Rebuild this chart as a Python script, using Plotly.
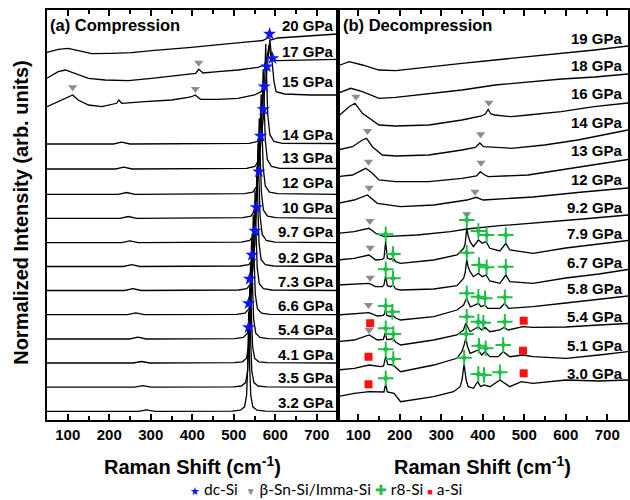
import plotly.graph_objects as go

# ---------------- Panel (a) Compression: Raman shift (cm-1) vs stacked normalized intensity ----------------
A20_X = [50, 77, 101, 126, 158, 206, 254, 302, 350, 398, 446, 494, 542, 570, 584, 590, 606, 654, 702, 750]
A20_Y = [367.5, 370.7, 371.7, 369.3, 366.3, 366.7, 367.3, 369.3, 370.7, 372.7, 374.7, 376.7, 378.3, 379.5, 382.5, 380, 382, 383.3, 384.7, 386]

A17_X = [50, 77, 94, 118, 150, 190, 246, 302, 366, 398, 408, 416, 426, 462, 510, 558, 574, 581, 585, 589, 594, 606, 654, 702, 750]
A17_Y = [341.7, 348.3, 350, 346.7, 341.7, 340, 339.3, 341.7, 345, 346.7, 346.5, 350.7, 347, 348.3, 350, 352.7, 355, 363.3, 375, 365, 360, 359.3, 360, 360, 360.7]

A15_X = [50, 77, 100, 112, 125, 150, 182, 218, 223, 230, 286, 350, 390, 400, 407, 420, 462, 510, 550, 566, 576, 582, 587, 592, 597, 602, 622, 686, 750]
A15_Y = [313.3, 318.3, 322.7, 325, 320, 315, 313.3, 316.7, 320, 316.7, 318.3, 320, 322.7, 323.5, 325, 320.7, 320.7, 321.7, 325, 328.3, 333.3, 360, 380, 360, 338.3, 328.3, 326, 325, 325]

# lower compression spectra: intensities above their stacking offsets
A14_X = [50, 210, 230, 250, 537, 557, 567, 572, 574.5, 577, 579.5, 582, 587, 597, 617, 750]
A14_I = [0, 0, 1.8, 0, 0.6, 2.5, 9.3, 29, 62, 100, 62, 29, 9.3, 2.5, 0.6, 0.5]
A13_X = [50, 215, 235, 255, 531, 551, 561, 566, 568.5, 571, 573.5, 576, 581, 591, 611, 750]
A13_I = [0, 0, 1.8, 0, 0.6, 2.5, 9.3, 29, 62, 100, 62, 29, 9.3, 2.5, 0.6, 0.5]
A12_X = [50, 222, 242, 262, 526, 546, 556, 561, 563.5, 566, 568.5, 571, 576, 586, 606, 750]
A12_I = [0, 0, 1.8, 0, 0.6, 2.2, 8.3, 26.5, 59, 100, 59, 26.5, 8.3, 2.2, 0.6, 0]
A10_X = [50, 226, 246, 266, 521.5, 541.5, 551.5, 556.5, 559, 561.5, 564, 566.5, 571.5, 581.5, 601.5, 750]
A10_I = [0, 0, 1.8, 0, 0.6, 2.2, 8.3, 26.5, 59, 100, 59, 26.5, 8.3, 2.2, 0.6, 0]
A97_X = [50, 230, 250, 270, 518.5, 538.5, 548.5, 553.5, 556, 558.5, 561, 563.5, 568.5, 578.5, 598.5, 750]
A97_I = [0, 0, 1.8, 0, 0.6, 2.2, 8.3, 26.5, 59, 100, 59, 26.5, 8.3, 2.2, 0.6, 0]
A92_X = [50, 234, 254, 274, 516, 536, 546, 551, 553.5, 556, 558.5, 561, 566, 576, 596, 750]
A92_I = [0, 0, 1.8, 0, 0.5, 1.8, 6.8, 22.6, 53.8, 100, 53.8, 22.6, 6.8, 1.8, 0.5, 0]
A73_X = [50, 237, 257, 277, 511.5, 531.5, 541.5, 546.5, 549, 551.5, 554, 556.5, 561.5, 571.5, 591.5, 750]
A73_I = [0, 0, 1.8, 0, 0.5, 1.8, 6.8, 22.6, 53.8, 100, 53.8, 22.6, 6.8, 1.8, 0.5, 0]
A66_X = [50, 244, 264, 284, 507, 527, 537, 542, 544.5, 547, 549.5, 552, 557, 567, 587, 750]
A66_I = [0, 0, 1.8, 0, 0.4, 1.5, 5.9, 20, 50, 100, 50, 20, 5.9, 1.5, 0.4, 0]
A54_X = [50, 249, 269, 289, 503, 523, 533, 538, 540.5, 543, 545.5, 548, 553, 563, 583, 750]
A54_I = [0, 0, 1.8, 0, 0.4, 1.5, 5.9, 20, 50, 100, 50, 20, 5.9, 1.5, 0.4, 0]
A41_X = [50, 258, 278, 298, 500.5, 520.5, 530.5, 535.5, 538, 540.5, 543, 545.5, 550.5, 560.5, 580.5, 750]
A41_I = [0, 0, 1.5, 0, 0.3, 1.2, 4.6, 16.2, 43.6, 100, 43.6, 16.2, 4.6, 1.2, 0.3, 0]
A35_X = [50, 261, 281, 301, 498.5, 518.5, 528.5, 533.5, 536, 538.5, 541, 543.5, 548.5, 558.5, 578.5, 750]
A35_I = [0, 0, 1.5, 0, 0.3, 1.2, 4.6, 16.2, 43.6, 100, 43.6, 16.2, 4.6, 1.2, 0.3, 0]
A32_X = [50, 270, 290, 310, 496, 516, 526, 531, 533.5, 536, 538.5, 541, 546, 556, 576, 750]
A32_I = [0, 0, 1.5, 0, 0.3, 1.2, 4.6, 16.2, 43.6, 100, 43.6, 16.2, 4.6, 1.2, 0.3, 0]

A_LABELS = ["20 GPa", "17 GPa", "15 GPa", "14 GPa", "13 GPa", "12 GPa", "10 GPa", "9.7 GPa",
            "9.2 GPa", "7.3 GPa", "6.6 GPa", "5.4 GPa", "4.1 GPa", "3.5 GPa", "3.2 GPa"]
A_LOW_OFFSETS = [276, 251, 225.7, 201.7, 177.3, 153.5, 129.5, 105.3, 81, 57, 32.8, 8.6]

# ---------------- Panel (b) Decompression ----------------
B19_X = [50, 78, 110, 150, 190, 270, 350, 430, 510, 590, 670, 750]
B19_Y = [354, 358.3, 355, 350, 349.3, 353.3, 356.7, 360, 363.3, 366.7, 370, 374]
B18_X = [50, 82, 110, 150, 190, 270, 350, 430, 510, 590, 670, 750]
B18_Y = [326.7, 331.7, 328.3, 321.7, 322.7, 326.7, 330, 335, 338.3, 341, 343, 346]
B16_X = [50, 78, 92, 110, 150, 190, 270, 350, 397, 406, 413, 420, 429, 469, 509, 589, 668, 750]
B16_Y = [303, 313.3, 316.7, 306.7, 295, 294, 295, 300, 304, 306, 310.5, 306, 305, 303.3, 305, 308.3, 313.3, 317]
B14_X = [50, 86, 110, 120, 134, 158, 190, 270, 350, 382, 393, 402, 469, 549, 629, 750]
B14_Y = [270, 273.3, 280, 281.7, 273.3, 265, 264, 265, 270, 272.5, 277, 273.3, 271.7, 275, 280, 290]
B13_X = [50, 86, 118, 134, 150, 190, 270, 350, 385, 394, 405, 413, 509, 589, 668, 750]
B13_Y = [243.3, 245, 251.7, 246.7, 240, 238.3, 238.3, 241.7, 244, 248.3, 245, 243.3, 245, 250, 255, 260.5]
B12_X = [50, 90, 122, 146, 202, 282, 362, 384, 401, 521, 641, 750]
B12_Y = [216.7, 220, 225, 216.7, 213.3, 215, 220, 222.7, 220, 223, 228, 232]
B92_X = [50, 90, 126, 142, 162, 242, 322, 362, 441, 521, 641, 750]
B92_Y = [186.7, 188.3, 191.7, 186.7, 183.3, 185, 188.3, 191, 194.3, 196.7, 201, 205]
B79_X = [50, 90, 126, 142, 158, 162, 166, 170, 178, 184, 190, 202, 282, 338, 354, 357.5, 361.5, 365, 369.5,
         377.5, 389.4, 399, 407.8, 417.3, 441.3, 455.6, 465.2, 521, 600, 680, 750]
B79_Y = [160, 161.7, 165, 160, 160.7, 162, 178.3, 161.7, 160.7, 162.3, 158.3, 156.7, 160, 165, 171.7, 176, 191.7,
         184, 178.3, 173.3, 180, 176.7, 178.3, 171.7, 169, 176.7, 170, 166.7, 172, 176, 179.5]
B67_X = [50, 90, 126, 142, 158, 162, 166, 170, 178, 184, 190, 202, 282, 338, 354, 357.5, 361.5, 365, 369.5,
         377.5, 389.4, 399, 407.8, 417.3, 441.3, 455.6, 465.2, 521, 600, 680, 750]
B67_Y = [135, 135.7, 136.7, 133.3, 133.3, 135, 144, 134.3, 133.3, 135, 131, 130, 131, 134.3, 141.7, 147, 160,
         153, 148.3, 143.3, 146.7, 143.3, 145, 139, 136.7, 145, 138.3, 136.7, 142, 146, 150.5]
B58_X = [50, 90, 126, 146, 160, 163, 166, 169, 178, 183, 190, 202, 282, 338, 354, 358, 361.5, 365, 370,
         389.4, 396, 405.4, 412, 441.3, 453, 462, 521, 600, 680, 750]
B58_Y = [105, 106, 107.3, 104, 104.7, 106, 111, 104.5, 103.5, 105, 102, 100, 103.3, 110, 115, 119, 122, 118, 113,
         116.7, 113.3, 115, 111.7, 111.7, 116.7, 111.7, 113.3, 117, 121, 124]
B54_X = [50, 90.4, 126.3, 146.3, 160.6, 165, 169, 178, 183.7, 190, 202.1, 281.8, 337.6, 353.5, 359.1, 363, 369.5,
         389.4, 397.4, 405.4, 417.3, 441.3, 451.6, 461.2, 497, 521, 600, 680, 750]
B54_Y = [78.3, 80, 85, 80, 80.7, 87, 80.5, 80.7, 82, 78, 75, 80, 85, 90, 96.7, 93, 88.3,
         93.3, 90, 92.7, 88.3, 90, 92.7, 90, 93.3, 92.7, 93, 95, 96.5]
B51_X = [50, 90.4, 126.3, 154.2, 161, 166.2, 171, 183.7, 202.1, 241.9, 281.8, 337.6, 349.6, 355, 359.1, 363, 369.5,
         389.4, 397.4, 405.4, 417.3, 437.3, 449.2, 465.2, 497, 521, 600.7, 680.4, 750]
B51_Y = [50, 51.7, 55, 53.3, 54, 63.3, 55.5, 55, 48.3, 51.7, 55, 61.7, 68.3, 75, 81.7, 74, 66.7,
         70, 65, 68.3, 63.3, 63.3, 68.3, 63.3, 65, 63.3, 61.7, 65, 68.3]
B30_X = [50, 90.4, 126.3, 154.2, 162, 166.2, 170, 186.1, 202.1, 281.8, 329.6, 345.6, 350, 355, 360, 365,
         377.5, 387.8, 395, 403, 417.3, 441.3, 465.2, 493.1, 521, 600.7, 680, 750]
B30_Y = [23.3, 26.7, 28.3, 28.3, 28, 36, 28, 26.7, 18.3, 23.3, 28.3, 33.3, 40, 56, 40, 33.3,
         31.7, 38.3, 33.3, 35, 33.3, 40, 33.3, 38.3, 36.7, 40, 39, 40]

B_LABELS = ["19 GPa", "18 GPa", "16 GPa", "14 GPa", "13 GPa", "12 GPa", "9.2 GPa", "7.9 GPa",
            "6.7 GPa", "5.8 GPa", "5.4 GPa", "5.1 GPa", "3.0 GPa"]

# ---------------- phase markers (peak assignments) ----------------
DC_X = [586.3, 593.5, 579.8, 573.6, 571.2, 564.7, 560.6, 554.3, 551, 543.8, 538.2, 535.8, 535.8]
DC_Y = [386, 361.7, 353.3, 333.3, 310.7, 284, 248.3, 212.7, 189, 165, 141, 116.7, 92.7]
BSN_A_X = [415.6, 111.9, 407.6]
BSN_A_Y = [357.3, 332.7, 331]
BSN_B_X = [94.4, 414.9, 122.3, 395, 124.7, 395.8, 126.3, 381.4, 127.9, 128.7, 361.5, 128.7, 124.7, 126.3]
BSN_B_Y = [323.3, 317.3, 289, 285.7, 258.3, 257.3, 232.3, 228.3, 199, 172.3, 205.7, 142.3, 115, 90]
R8_X = [361.5, 389.4, 409.4, 455.6, 166.2, 183.7,
        361.5, 391, 409.4, 455.6, 166.2, 183.7,
        361.5, 389.4, 405.4, 453.2, 166.2, 182.1,
        361.5, 389.4, 401.4, 453.2, 166.2, 184.5,
        360, 391, 407, 449.2, 166.2, 184.5,
        355.1, 389.4, 403, 441.3, 166.2]
R8_Y = [200, 189, 185, 185, 185.7, 166,
        167.3, 155, 152.7, 153.3, 150.7, 141.7,
        126.7, 123.3, 121.7, 122.7, 114, 108.3,
        103.3, 98.3, 97.3, 98.3, 91.7, 86,
        86, 74.3, 71.7, 75, 70.7, 61,
        62.3, 46, 45, 47.7, 41.7]
ASI_X = [128.7, 498.6, 124.7, 497, 124.7, 498.6]
ASI_Y = [96.7, 99.3, 63.3, 69.3, 35.7, 46.7]

# ---------------- colours ----------------
C_DC = "#0a14ff"
C_BSN = "#8c8c8c"
C_R8 = "#1fbf4a"
C_ASI = "#ff1010"

# ---------------- build figure ----------------
FONT = "Liberation Sans, Arial, sans-serif"
fig = go.Figure()

def add_line(x, y, xa, ya):
    fig.add_trace(go.Scatter(x=x, y=y, mode="lines", line=dict(color="black", width=1.3),
                             xaxis=xa, yaxis=ya, showlegend=False, hoverinfo="skip"))

a_top = [(A20_X, A20_Y), (A17_X, A17_Y), (A15_X, A15_Y)]
a_low = [(A14_X, A14_I), (A13_X, A13_I), (A12_X, A12_I), (A10_X, A10_I), (A97_X, A97_I), (A92_X, A92_I),
         (A73_X, A73_I), (A66_X, A66_I), (A54_X, A54_I), (A41_X, A41_I), (A35_X, A35_I), (A32_X, A32_I)]
a_spectra = list(a_top)
for (x, inten), off in zip(a_low, A_LOW_OFFSETS):
    a_spectra.append((x, [off + v for v in inten]))
for x, y in a_spectra:
    add_line(x, y, "x", "y")

b_spectra = [(B19_X, B19_Y), (B18_X, B18_Y), (B16_X, B16_Y), (B14_X, B14_Y), (B13_X, B13_Y), (B12_X, B12_Y),
             (B92_X, B92_Y), (B79_X, B79_Y), (B67_X, B67_Y), (B58_X, B58_Y), (B54_X, B54_Y), (B51_X, B51_Y),
             (B30_X, B30_Y)]
for x, y in b_spectra:
    add_line(x, y, "x2", "y2")

fig.add_trace(go.Scatter(x=DC_X, y=DC_Y, mode="markers", name="dc-Si", xaxis="x", yaxis="y",
                         marker=dict(symbol="star", size=10, color=C_DC, line=dict(width=0))))
fig.add_trace(go.Scatter(x=BSN_A_X, y=BSN_A_Y, mode="markers", name="β-Sn-Si/Imma-Si", xaxis="x", yaxis="y",
                         marker=dict(symbol="triangle-down", size=8, color=C_BSN, line=dict(width=0))))
fig.add_trace(go.Scatter(x=BSN_B_X, y=BSN_B_Y, mode="markers", name="β-Sn-Si/Imma-Si", xaxis="x2", yaxis="y2",
                         marker=dict(symbol="triangle-down", size=8, color=C_BSN, line=dict(width=0))))
fig.add_trace(go.Scatter(x=R8_X, y=R8_Y, mode="markers", name="r8-Si", xaxis="x2", yaxis="y2",
                         marker=dict(symbol="cross-thin", size=11, color=C_R8, line=dict(width=2, color=C_R8))))
fig.add_trace(go.Scatter(x=R8_X, y=R8_Y, mode="markers", name="r8-Si", xaxis="x2", yaxis="y2",
                         marker=dict(symbol="diamond", size=5, color=C_R8, line=dict(width=0))))
fig.add_trace(go.Scatter(x=ASI_X, y=ASI_Y, mode="markers", name="a-Si", xaxis="x2", yaxis="y2",
                         marker=dict(symbol="square", size=8, color=C_ASI, line=dict(width=0))))

xcommon = dict(range=[50, 750], dtick=100, tick0=0, ticks="inside", ticklen=6, tickwidth=1.5,
               tickcolor="black", showline=True, linecolor="black", linewidth=2, mirror="allticks",
               minor=dict(dtick=50, ticks="inside", ticklen=4, tickwidth=1.5, tickcolor="black"),
               showgrid=False, zeroline=False,
               tickfont=dict(family=FONT, size=15, color="black", weight="bold"))
ycommon = dict(range=[0, 410], showticklabels=False, ticks="", showline=True, linecolor="black",
               linewidth=2, mirror=True, showgrid=False, zeroline=False)

fig.update_layout(
    width=630, height=500,
    margin=dict(l=47, r=0, t=10, b=80),
    paper_bgcolor="white", plot_bgcolor="white",
    xaxis=dict(domain=[0, 0.5], anchor="y", **xcommon),
    xaxis2=dict(domain=[0.5, 1], anchor="y2", **xcommon),
    yaxis=dict(anchor="x", **ycommon),
    yaxis2=dict(anchor="x2", matches="y", **ycommon),
    showlegend=False,
)

ann = []
LABEL_Y_A = [395, 369, 339, 286, 263, 238, 213, 189, 163, 139, 115, 91, 66, 43, 18]
LABEL_Y_B = [381.7, 355, 326.7, 297.3, 269.3, 240.7, 212.7, 186.7, 157.7, 131.7, 104, 75, 46.7]
for lab, yv in zip(A_LABELS, LABEL_Y_A):
    ann.append(dict(text="<b>%s</b>" % lab, xref="x domain", x=0.996, xanchor="right",
                    yref="y", y=yv, yanchor="middle", showarrow=False,
                    font=dict(family=FONT, size=15, color="black")))
for lab, yv in zip(B_LABELS, LABEL_Y_B):
    ann.append(dict(text="<b>%s</b>" % lab, xref="x2 domain", x=0.99, xanchor="right",
                    yref="y2", y=yv, yanchor="middle", showarrow=False,
                    font=dict(family=FONT, size=15, color="black")))
ann.append(dict(text="<b>(a) Compression</b>", xref="x domain", x=0.003, xanchor="left",
                yref="y", y=395, yanchor="middle", showarrow=False,
                font=dict(family=FONT, size=16.5, color="black")))
ann.append(dict(text="<b>(b) Decompression</b>", xref="x2 domain", x=0.011, xanchor="left",
                yref="y2", y=395, yanchor="middle", showarrow=False,
                font=dict(family=FONT, size=16.5, color="black")))
for xr in ["x domain", "x2 domain"]:
    ann.append(dict(text="<b>Raman Shift (cm<sup>-1</sup>)</b>", xref=xr, x=0.5, xanchor="center",
                    yref="paper", y=-0.11, yanchor="middle", showarrow=False,
                    font=dict(family=FONT, size=20, color="black")))
ann.append(dict(text="<b>Normalized Intensity (arb. units)</b>", xref="paper", x=-0.046, xanchor="center",
                yref="paper", y=0.506, yanchor="middle", textangle=-90, showarrow=False,
                font=dict(family=FONT, size=20, color="black")))

# phase key drawn as one text row under the panels
legend_text = ("<span style='color:%s;font-size:11px'>★</span>&nbsp;dc-Si&nbsp;&nbsp;"
               "<span style='color:%s;font-size:10px'>▼</span>&nbsp;β-Sn-Si/Imma-Si&nbsp;"
               "<span style='color:%s;font-size:14px'>✚</span>&nbsp;r8-Si&nbsp;"
               "<span style='color:%s;font-size:9px'>■</span>&nbsp;a-Si") % (C_DC, C_BSN, C_R8, C_ASI)
ann.append(dict(text=legend_text, xref="paper", x=(327 - 47) / 583, xanchor="center",
                yref="paper", y=-(489 - 420) / 410, yanchor="middle", showarrow=False,
                borderpad=0,
                font=dict(family="Lato, Open Sans, sans-serif", size=15.5, color="black")))
fig.update_layout(annotations=ann)

fig.write_html("out.html", config={"displayModeBar": False},
               post_script="document.body.style.margin='0px';")
